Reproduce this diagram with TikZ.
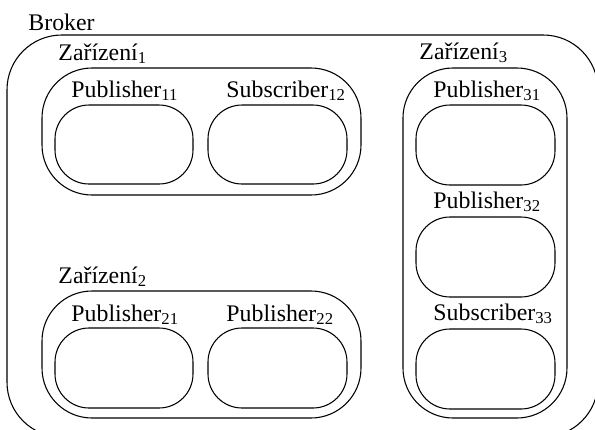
\documentclass[tikz,border=0pt]{standalone}
\usepackage{fontspec}
\setmainfont{Liberation Serif}
\usetikzlibrary{fit}
\begin{document}
\begin{tikzpicture}[x=0.42pt,y=-0.42pt,
    frame/.style={draw, line width=0.45pt, inner sep=0pt},
    brokerbox/.style={frame, rounded corners=23pt},
    devbox/.style={frame, rounded corners=21pt},
    clientbox/.style={frame, rounded corners=14.3pt},
    lbl/.style={anchor=base west, inner sep=0pt, font=\fontsize{10}{12}\selectfont}]
  \useasboundingbox (0,0) rectangle (595,429);
  \clip (0,0) rectangle (595,429);

  % broker
  \node[brokerbox, fit={(7,35) (598,437)}] (broker) {};
  \node[lbl] (brokerlbl) at (28,30) {Broker};

  % devices
  \node[devbox, fit={(42,68) (361,195)}] (dev1) {};
  \node[devbox, fit={(42,291) (361,418)}] (dev2) {};
  \node[devbox, fit={(403,68) (567,418)}] (dev3) {};
  \node[lbl] (dev1lbl) at (58,60) {Zařízení\textsubscript{1}};
  \node[lbl] (dev2lbl) at (58,283) {Zařízení\textsubscript{2}};
  \node[lbl] (dev3lbl) at (419,59) {Zařízení\textsubscript{3}};

  % publishers and subscribers
  \node[clientbox, fit={(55,105) (193,184)}] (p11) {};
  \node[clientbox, fit={(208,105) (347,184)}] (s12) {};
  \node[clientbox, fit={(55,328) (193,408)}] (p21) {};
  \node[clientbox, fit={(208,328) (347,408)}] (p22) {};
  \node[clientbox, fit={(416,105) (555,185)}] (p31) {};
  \node[clientbox, fit={(416,217) (555,297)}] (p32) {};
  \node[clientbox, fit={(416,329) (555,409)}] (s33) {};

  \node[lbl] (p11lbl) at (71,97) {Publisher\textsubscript{11}};
  \node[lbl] (s12lbl) at (226,97) {Subscriber\textsubscript{12}};
  \node[lbl] (p21lbl) at (71,321) {Publisher\textsubscript{21}};
  \node[lbl] (p22lbl) at (226,321) {Publisher\textsubscript{22}};
  \node[lbl] (p31lbl) at (433,97) {Publisher\textsubscript{31}};
  \node[lbl] (p32lbl) at (433,208) {Publisher\textsubscript{32}};
  \node[lbl] (s33lbl) at (433,320) {Subscriber\textsubscript{33}};
\end{tikzpicture}
\end{document}
